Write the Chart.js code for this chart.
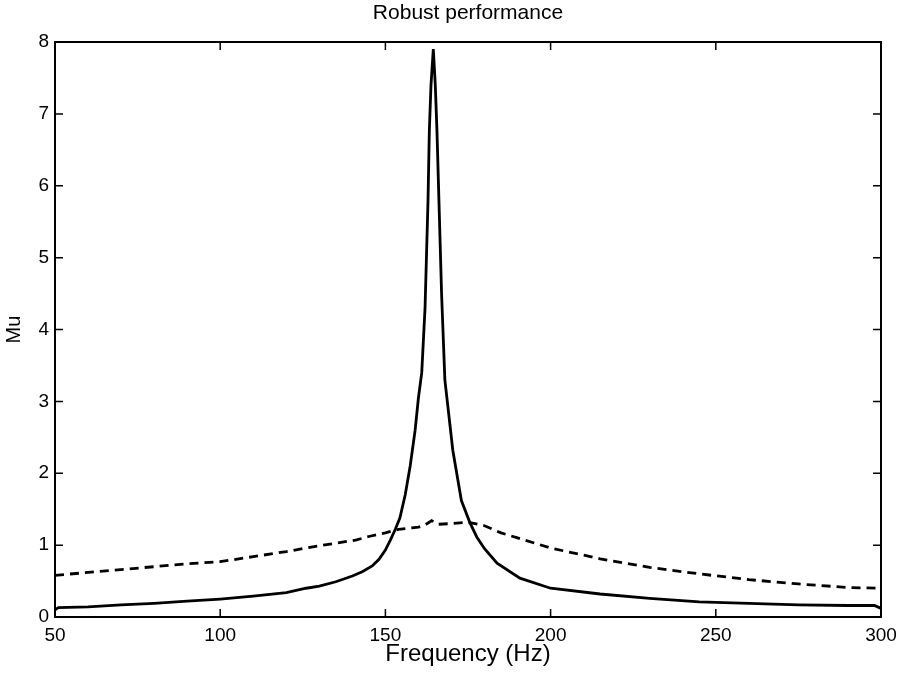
<!DOCTYPE html>
<html>
<head>
<meta charset="utf-8">
<script src="https://cdn.jsdelivr.net/npm/chart.js@4"></script>
<style>
html,body{margin:0;padding:0;background:#fff;}
#wrap{width:904px;height:685px;position:relative;}
</style>
</head>
<body>
<div id="wrap"><canvas id="c"></canvas></div>
<script>
// Solid curve (nominal)
const freqSolid = [50,51,60,70,80,90,100,110,120,126,130,135,140,143,146,148,150,151.5,153,154.4,156,157.5,159,160,161,162,162.9,163.3,163.8,164.5,165.1,165.6,166.2,167,168,170.4,173,175.6,177.7,180,183.8,190.7,200,215,230,245,260,275,290,298,300];
const muSolid   = [0.10,0.13,0.14,0.17,0.19,0.22,0.25,0.29,0.34,0.40,0.43,0.49,0.57,0.63,0.71,0.80,0.93,1.07,1.22,1.38,1.70,2.10,2.60,3.05,3.40,4.30,5.80,6.77,7.40,7.90,7.40,6.77,5.80,4.50,3.30,2.32,1.62,1.31,1.11,0.95,0.75,0.54,0.40,0.32,0.26,0.21,0.19,0.17,0.16,0.16,0.12];
// Dashed curve
const freqDashed = [50,60,70,80,90,100,110,120,126,130,141,145,150,154,158,160,162,164,166,170,175,180,185,190,200,215,230,245,260,275,290,300];
const muDashed   = [0.58,0.62,0.66,0.70,0.74,0.77,0.84,0.91,0.96,0.99,1.07,1.12,1.17,1.22,1.24,1.25,1.28,1.34,1.29,1.30,1.32,1.27,1.17,1.10,0.96,0.81,0.69,0.60,0.52,0.46,0.41,0.40];
const xTicks = [50,100,150,200,250,300];
const yTicks = [0,1,2,3,4,5,6,7,8];
const titleText = 'Robust performance';
const xLabel = 'Frequency (Hz)';
const yLabel = 'Mu';

const FONT = 'Liberation Sans, Arial, sans-serif';
const toPts = (xs, ys) => xs.map((x, i) => ({x: x, y: ys[i]}));

const boxTicks = {
  id: 'boxTicks',
  afterDraw(chart) {
    const ctx = chart.ctx, a = chart.chartArea;
    const sx = chart.scales.x, sy = chart.scales.y;
    const L = 8;
    ctx.save();
    ctx.strokeStyle = '#000';
    ctx.lineWidth = 2;
    ctx.strokeRect(a.left, a.top, a.right - a.left, a.bottom - a.top);
    ctx.lineWidth = 1.5;
    ctx.beginPath();
    xTicks.forEach(v => {
      const px = sx.getPixelForValue(v);
      ctx.moveTo(px, a.bottom); ctx.lineTo(px, a.bottom - L);
      ctx.moveTo(px, a.top); ctx.lineTo(px, a.top + L);
    });
    yTicks.forEach(v => {
      const py = sy.getPixelForValue(v);
      ctx.moveTo(a.left, py); ctx.lineTo(a.left + L, py);
      ctx.moveTo(a.right, py); ctx.lineTo(a.right - L, py);
    });
    ctx.stroke();
    // title centred over the plot box
    ctx.fillStyle = '#000';
    ctx.font = '21px ' + FONT;
    ctx.textAlign = 'center';
    ctx.textBaseline = 'middle';
    ctx.fillText(titleText, (a.left + a.right) / 2, 13);
    ctx.restore();
  }
};

new Chart(document.getElementById('c'), {
  type: 'line',
  data: {
    datasets: [
      {
        label: 'solid',
        data: toPts(freqSolid, muSolid),
        borderColor: '#000',
        borderWidth: 2.8,
        pointRadius: 0,
        tension: 0,
        fill: false
      },
      {
        label: 'dashed',
        data: toPts(freqDashed, muDashed),
        borderColor: '#000',
        borderWidth: 2.8,
        borderDash: [9, 6],
        pointRadius: 0,
        tension: 0,
        fill: false
      }
    ]
  },
  options: {
    responsive: true,
    maintainAspectRatio: false,
    animation: false,
    devicePixelRatio: 1,
    layout: { padding: { left: 0, right: 23, top: 42, bottom: 0 } },
    plugins: {
      legend: { display: false },
      tooltip: { enabled: false },
      title: { display: false }
    },
    scales: {
      x: {
        type: 'linear',
        min: 50, max: 300,
        afterFit(s) { s.height = 68; },
        afterBuildTicks(s) { s.ticks = xTicks.map(v => ({value: v})); },
        grid: { display: false, drawTicks: false },
        border: { display: true, color: '#000', width: 2 },
        ticks: {
          color: '#000',
          padding: 7,
          maxRotation: 0,
          font: { family: FONT, size: 19 }
        },
        title: {
          display: true,
          text: xLabel,
          color: '#000',
          font: { family: FONT, size: 24 },
          padding: { top: 0, bottom: 16 }
        }
      },
      y: {
        type: 'linear',
        min: 0, max: 8,
        afterFit(s) { s.width = 55; },
        afterBuildTicks(s) { s.ticks = yTicks.map(v => ({value: v})); },
        grid: { display: false, drawTicks: false },
        border: { display: true, color: '#000', width: 2 },
        ticks: {
          color: '#000',
          padding: 6,
          font: { family: FONT, size: 19 }
        },
        title: {
          display: true,
          text: yLabel,
          color: '#000',
          font: { family: FONT, size: 20 },
          padding: { top: 2, bottom: 0 }
        }
      }
    }
  },
  plugins: [boxTicks]
});
</script>
</body>
</html>
